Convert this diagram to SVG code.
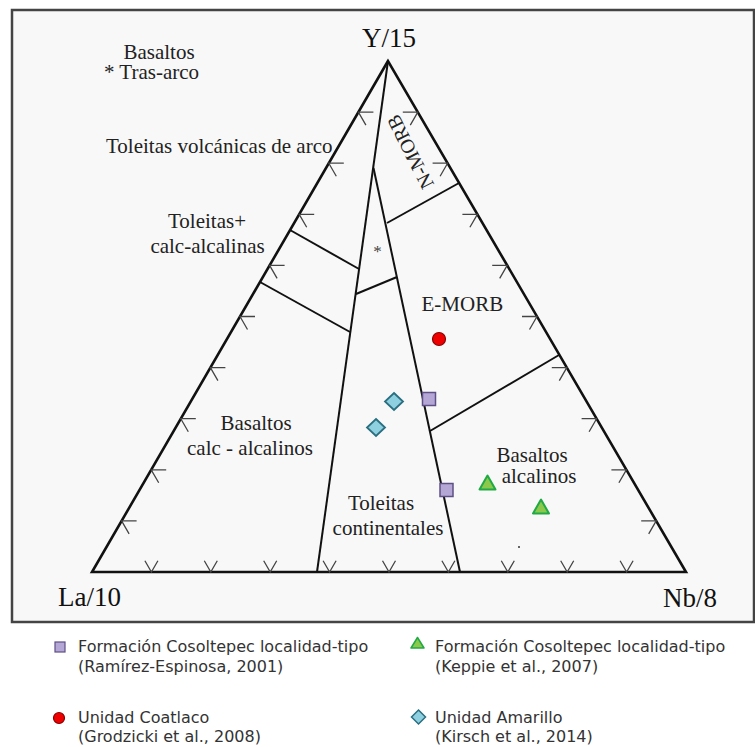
<svg xmlns="http://www.w3.org/2000/svg" width="755" height="747" viewBox="0 0 755 747">
<style>
.lbl{font-family:"Liberation Serif","Times New Roman",serif;font-size:21px;fill:#222}
.ax{font-family:"Liberation Serif","Times New Roman",serif;font-size:27px;fill:#111}
.leg{font-family:"DejaVu Sans",Verdana,sans-serif;font-size:16px;fill:#333}
.edge{fill:none;stroke:#111;stroke-width:2.6;stroke-linejoin:miter}
.bnd{fill:none;stroke:#111;stroke-width:2}
.tick{fill:none;stroke:#444;stroke-width:1.3}
.sq{fill:#b4a7d6;stroke:#5e4f85;stroke-width:1.5}
.ci{fill:#ee0000;stroke:#8a0000;stroke-width:1.2}
.tr{fill:#8cc84b;stroke:#1faa45;stroke-width:2;stroke-linejoin:round}
.di{fill:#8ecfe0;stroke:#2a6f80;stroke-width:1.8}
</style>
<rect x="0" y="0" width="755" height="747" fill="#ffffff"/>
<rect id="frame" x="12" y="10" width="742" height="612" fill="#f8f8f8" stroke="#444" stroke-width="2.5"/>

<g id="connectors">
  <path class="edge" d="M388,61 L92,572 L686,572 Z"/>
  <path class="bnd" d="M388,61 L317,572"/>
  <path class="bnd" d="M373.5,168 L460,572"/>
  <path class="bnd" d="M290,230 L359,269"/>
  <path class="bnd" d="M260,282 L350,332"/>
  <path class="bnd" d="M356,294 L397,277"/>
  <path class="bnd" d="M387,223 L459,183"/>
  <path class="bnd" d="M559,355 L430,431"/>
</g>

<g id="ticks" class="tick">
  <path d="M136.6,520.9H121.6l7.5,13 M166.2,469.8H151.2l7.5,13 M195.8,418.7H180.8l7.5,13 M225.4,367.6H210.4l7.5,13 M255,316.5H240l7.5,13 M284.6,265.4H269.6l7.5,13 M314.2,214.3H299.2l7.5,13 M343.8,163.2H328.8l7.5,13 M373.4,112.1H358.4l7.5,13"/>
  <path d="M641.2,520.9H656.2l-7.5,13 M611.4,469.8H626.4l-7.5,13 M581.6,418.7H596.6l-7.5,13 M551.8,367.6H566.8l-7.5,13 M522,316.5H537l-7.5,13 M492.2,265.4H507.2l-7.5,13 M462.4,214.3H477.4l-7.5,13 M432.6,163.2H447.6l-7.5,13 M402.8,112.1H417.8l-7.5,13"/>
  <path d="M144.9,560.7l6.5,11.3l6.5,-11.3 M204.3,560.7l6.5,11.3l6.5,-11.3 M263.7,560.7l6.5,11.3l6.5,-11.3 M323.1,560.7l6.5,11.3l6.5,-11.3 M382.5,560.7l6.5,11.3l6.5,-11.3 M441.9,560.7l6.5,11.3l6.5,-11.3 M501.3,560.7l6.5,11.3l6.5,-11.3 M560.7,560.7l6.5,11.3l6.5,-11.3 M620.1,560.7l6.5,11.3l6.5,-11.3"/>
</g>

<g id="axis-labels">
  <text class="ax" x="389" y="47" text-anchor="middle">Y/15</text>
  <text class="ax" x="58" y="606">La/10</text>
  <text class="ax" x="663" y="607">Nb/8</text>
</g>

<g id="field-labels">
  <g id="tras-arco">
    <text class="lbl" x="159" y="59" text-anchor="middle">Basaltos</text>
    <text class="lbl" x="104" y="79">* Tras-arco</text>
  </g>
  <g id="toleitas-arco"><text class="lbl" x="106" y="153">Toleitas volcánicas de arco</text></g>
  <g id="toleitas-calc">
    <text class="lbl" x="207" y="228" text-anchor="middle">Toleitas+</text>
    <text class="lbl" x="207.5" y="253" text-anchor="middle">calc-alcalinas</text>
  </g>
  <g id="star"><text class="lbl" x="377.5" y="257" text-anchor="middle" style="font-size:17px;fill:#444">*</text></g>
  <g id="n-morb"><text class="lbl" transform="translate(410,152) rotate(-117)" text-anchor="middle" dy="0.35em" style="font-size:20px">N-MORB</text></g>
  <g id="e-morb"><text class="lbl" x="421.5" y="311">E-MORB</text></g>
  <g id="basaltos-calc">
    <text class="lbl" x="256" y="430" text-anchor="middle">Basaltos</text>
    <text class="lbl" x="250" y="455" text-anchor="middle">calc - alcalinos</text>
  </g>
  <g id="toleitas-cont">
    <text class="lbl" x="381" y="510" text-anchor="middle">Toleitas</text>
    <text class="lbl" x="388" y="535" text-anchor="middle">continentales</text>
  </g>
  <g id="basaltos-alc">
    <text class="lbl" x="532" y="462" text-anchor="middle">Basaltos</text>
    <text class="lbl" x="539" y="483" text-anchor="middle">alcalinos</text>
  </g>
  <circle cx="519" cy="547" r="1" fill="#333"/>
</g>

<g id="data-points">
  <circle class="ci" cx="439" cy="339" r="6.5"/>
  <rect class="sq" x="422.5" y="392.5" width="13" height="13"/>
  <rect class="sq" x="440" y="483.5" width="13" height="13"/>
  <polygon class="di" points="394,393 403,401.5 394,410 385,401.5"/>
  <polygon class="di" points="376,419 385,427.5 376,436 367,427.5"/>
  <polygon class="tr" points="487.5,475.5 479.5,489.5 495.5,489.5"/>
  <polygon class="tr" points="541,499.5 533,513.5 549,513.5"/>
</g>

<g id="legend">
  <g id="leg-ramirez">
    <rect class="sq" x="55" y="642" width="10" height="10" style="stroke-width:1.2"/>
    <text class="leg" x="78" y="651.5">Formación Cosoltepec localidad-tipo</text>
    <text class="leg" x="78" y="671.5">(Ramírez-Espinosa, 2001)</text>
  </g>
  <g id="leg-keppie">
    <polygon class="tr" points="417.5,637.5 411,648 424,648" style="stroke-width:1.5"/>
    <text class="leg" x="435" y="651.5">Formación Cosoltepec localidad-tipo</text>
    <text class="leg" x="435" y="671.5">(Keppie et al., 2007)</text>
  </g>
  <g id="leg-grodzicki">
    <circle class="ci" cx="59" cy="718" r="5.5"/>
    <text class="leg" x="78" y="722.5">Unidad Coatlaco</text>
    <text class="leg" x="78" y="742">(Grodzicki et al., 2008)</text>
  </g>
  <g id="leg-kirsch">
    <polygon class="di" points="418.5,710 425.5,717 418.5,724 411.5,717" style="stroke-width:1.5"/>
    <text class="leg" x="435" y="722.5">Unidad Amarillo</text>
    <text class="leg" x="435" y="742">(Kirsch et al., 2014)</text>
  </g>
</g>
</svg>
